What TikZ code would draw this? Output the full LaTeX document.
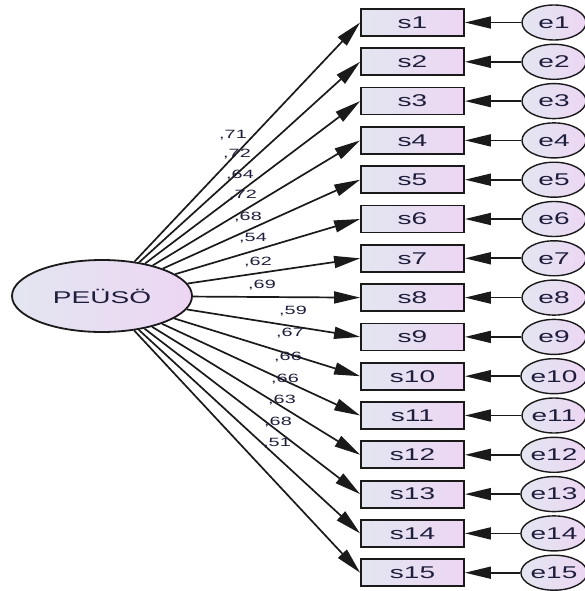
\documentclass[tikz,border=0pt]{standalone}
\usepackage{fontspec}
\setmainfont{Liberation Sans}
\usetikzlibrary{arrows.meta,shapes.geometric}
\definecolor{fillL}{HTML}{E3E6F1}
\definecolor{fillR}{HTML}{EDD6F3}
\definecolor{txt}{HTML}{1E1E3C}
\definecolor{ln}{HTML}{1A1A1A}
\newcommand{\sxx}[1]{\scalebox{1.65}[1]{#1}}
\tikzset{
  obs/.style={draw=ln, line width=1.8pt, rectangle, minimum width=103pt, minimum height=27pt, inner sep=0pt, left color=fillL, right color=fillR, text=txt, font=\fontsize{17}{17}\selectfont},
  err/.style={draw=ln, line width=1.4pt, ellipse, minimum width=64pt, minimum height=35pt, inner sep=0pt, left color=fillL, right color=fillR, text=txt, font=\fontsize{17}{17}\selectfont},
  lat/.style={draw=ln, line width=1.8pt, ellipse, minimum width=180pt, minimum height=72pt, inner sep=0pt, left color=fillL, right color=fillR, text=txt, font=\fontsize{17}{17}\selectfont},
  lab/.style={text=txt, inner sep=0pt, font=\fontsize{12}{12}\selectfont},
  arr/.style={draw=ln, line width=1.7pt, -{Triangle[length=26pt,width=12pt]}}
}
\begin{document}
\begin{tikzpicture}[x=1pt,y=-1pt]
\clip (0,0) rectangle (585,591);
\node[lat] (F) at (102,296) {\sxx{PEÜSÖ}};
\foreach \i in {1,...,15}{
  \pgfmathsetmacro\yy{22.5+(\i-1)*39.3}
  \node[obs] (s\i) at (412.5,\yy) {\sxx{s\i}};
  \node[err] (e\i) at (554,\yy) {\sxx{e\i}};
  \draw[arr] (e\i) -- (s\i);
  \draw[arr] (F) -- (s\i.west);
}
\foreach \i/\v/\x/\y in {1/71/233/135, 2/72/237/154, 3/64/240/175, 4/72/243/195, 5/68/248/217, 6/54/253/238, 7/62/258/262, 8/69/262/285, 9/59/293/311, 10/67/290/333, 11/66/288/357, 12/66/285/379, 13/63/282/400, 14/68/278/422, 15/51/277/443}{
  \node[lab] (l\i) at (\x,\y) {\sxx{,\v}};
}
\end{tikzpicture}
\end{document}
